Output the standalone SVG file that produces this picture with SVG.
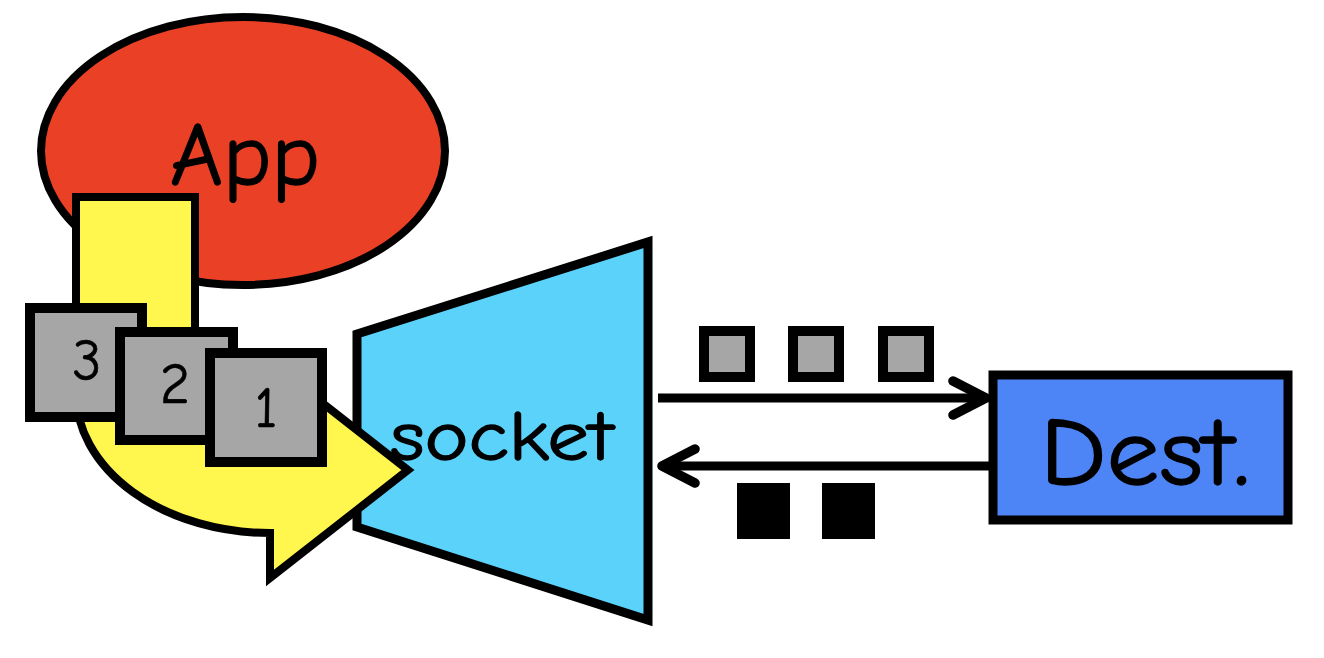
<svg xmlns="http://www.w3.org/2000/svg" width="1324" height="658" viewBox="0 0 1324 658">
<style>
.ol{stroke:#000;stroke-linejoin:miter}
.lbl{font-family:"Comic Sans MS","Comic Neue","DejaVu Sans",sans-serif;fill:#000;stroke:#000;stroke-width:1.3}
.num{stroke-width:0.6}
.pkt{fill:#A6A6A6;stroke:#000;stroke-width:10}
.blk{fill:#000}
.conn{fill:none;stroke:#000;stroke-width:9}
</style>
<defs>
<marker id="chev" markerUnits="userSpaceOnUse" markerWidth="44" markerHeight="44" viewBox="0 0 44 44" refX="38" refY="22" orient="auto">
<path d="M5,5 L38,22 L5,39" fill="none" stroke="#000" stroke-width="9.5" stroke-linecap="round" stroke-linejoin="round"/>
</marker>
</defs>
<rect width="1324" height="658" fill="#fff"/>
<g id="app">
<ellipse cx="243" cy="151" rx="202" ry="134" fill="#EA4025" class="ol" stroke-width="8"/>
<text class="lbl" x="170" y="185" font-size="88" textLength="150" lengthAdjust="spacingAndGlyphs">App</text>
</g>
<g id="socket">
<polygon points="357,334 648,242 648,620 357,527" fill="#5BD2F9" class="ol" stroke-width="9"/>
</g>
<g id="flow-arrow">
<path d="M76,197 L195,197 L195,355 A75,52 0 0 0 270,407 L270,362 L408,470 L270,578 L270,533 A194,140 0 0 1 76,393 Z" fill="#FFF64E" class="ol" stroke-width="8"/>
</g>
<g id="buffer">
<rect class="pkt" x="30" y="308" width="112" height="109"/>
<text class="lbl num" x="87" y="380" font-size="58" text-anchor="middle">3</text>
<rect class="pkt" x="120" y="332" width="113" height="108"/>
<text class="lbl num" x="175" y="403" font-size="58" text-anchor="middle">2</text>
<rect class="pkt" x="210" y="353" width="112" height="109"/>
<text class="lbl num" x="266" y="427" font-size="58" text-anchor="middle">1</text>
</g>
<g id="socket-label">
<text class="lbl" x="390" y="460" font-size="70" textLength="223" lengthAdjust="spacingAndGlyphs">socket</text>
</g>
<g id="dest">
<rect x="993" y="375" width="295" height="145" fill="#4D85F6" class="ol" stroke-width="9"/>
<text class="lbl" x="1040" y="485" font-size="98" textLength="210" lengthAdjust="spacingAndGlyphs">Dest.</text>
</g>
<g id="connectors">
<path class="conn" d="M658,398 L986,398" marker-end="url(#chev)"/>
<path class="conn" d="M989,466 L662,466" marker-end="url(#chev)"/>
</g>
<g id="packets-out">
<rect class="pkt" x="704" y="331" width="46" height="46"/>
<rect class="pkt" x="793" y="331" width="46" height="46"/>
<rect class="pkt" x="883" y="331" width="46" height="46"/>
</g>
<g id="packets-in">
<rect class="blk" x="737" y="483" width="53" height="56"/>
<rect class="blk" x="822" y="483" width="53" height="56"/>
</g>
</svg>
